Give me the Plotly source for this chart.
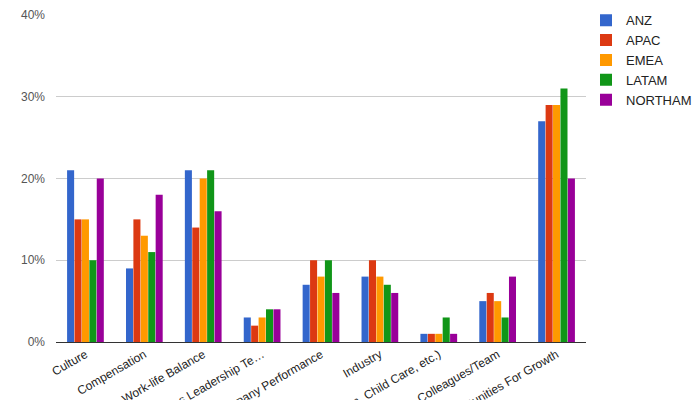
import plotly.graph_objects as go

categories = [
    "Culture",
    "Compensation",
    "Work-life Balance",
    "Senior Executives Leadership Te…",
    "Company Performance",
    "Industry",
    "Benefits (Health, Vacation, Child Care, etc.)",
    "Colleagues/Team",
    "Career Opportunities For Growth",
]
anz = [21, 9, 21, 3, 7, 8, 1, 5, 27]
apac = [15, 15, 14, 2, 10, 10, 1, 6, 29]
emea = [15, 13, 20, 3, 8, 8, 1, 5, 29]
latam = [10, 11, 21, 4, 10, 7, 3, 3, 31]
northam = [20, 18, 16, 4, 6, 6, 1, 8, 20]

series = [
    ("ANZ", anz, "#3366cc"),
    ("APAC", apac, "#dc3912"),
    ("EMEA", emea, "#ff9900"),
    ("LATAM", latam, "#109618"),
    ("NORTHAM", northam, "#990099"),
]

fig = go.Figure()
for name, vals, color in series:
    fig.add_trace(go.Bar(
        x=categories, y=[v / 100 for v in vals], name=name,
        marker=dict(color=color, line=dict(width=0)),
    ))

fig.update_layout(
    width=700, height=400,
    paper_bgcolor="white", plot_bgcolor="white",
    margin=dict(l=56, r=114, t=15, b=58, autoexpand=False),
    barmode="group", bargap=0.37, bargroupgap=0.05,
    font=dict(family="Liberation Sans, Arial, sans-serif", size=12, color="#444444"),
    legend=dict(x=1.0, y=1.03, xanchor="left", yanchor="top",
                font=dict(size=13, color="#222222"), tracegroupgap=0,
                itemwidth=30, bgcolor="rgba(0,0,0,0)"),
    xaxis=dict(tickangle=-30, automargin=False, showgrid=False,
               showline=True, linecolor="#333333", linewidth=1,
               tickfont=dict(size=12, color="#222222"), ticks=""),
    yaxis=dict(range=[0, 0.4], tickvals=[0, 0.1, 0.2, 0.3, 0.4],
               tickformat=".0%", automargin=False, gridcolor="#cccccc",
               zeroline=False, tickfont=dict(size=12, color="#555555"),
               ticklabelstandoff=10),
)

fig.write_html(
    "out.html",
    config={"displayModeBar": False},
    post_script="document.body.style.margin='0';document.body.style.overflow='hidden';",
)
